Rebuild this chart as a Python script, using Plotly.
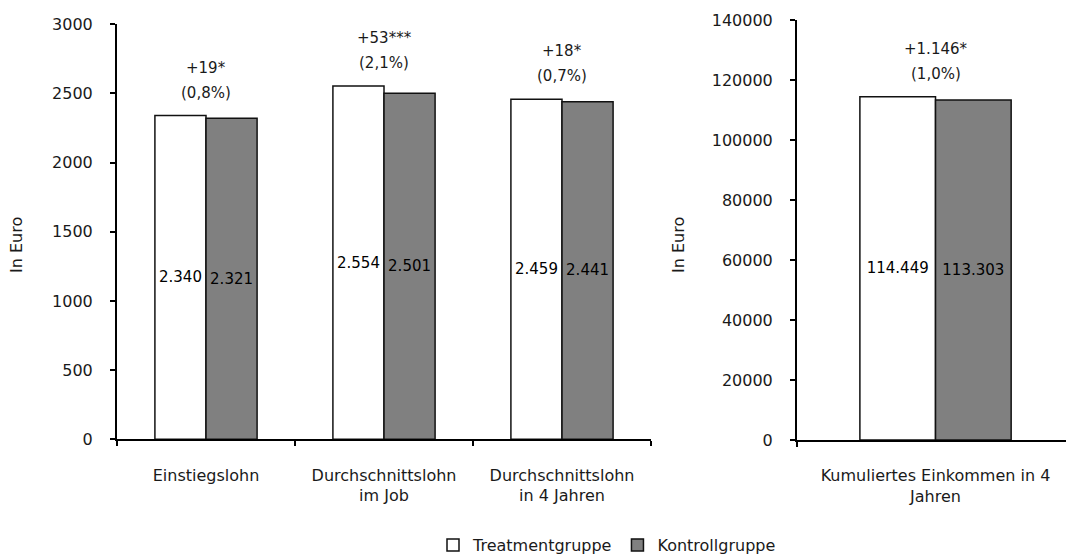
import plotly.graph_objects as go

categories_left = ["Einstiegslohn", "Durchschnittslohn<br>im Job", "Durchschnittslohn<br>in 4 Jahren"]
treatment_left = [2340, 2554, 2459]
control_left = [2321, 2501, 2441]
diff_left = ["+19*", "+53***", "+18*"]
pct_left = ["(0,8%)", "(2,1%)", "(0,7%)"]

categories_right = ["Kumuliertes Einkommen in 4<br>Jahren"]
treatment_right = [114449]
control_right = [113303]
diff_right = ["+1.146*"]
pct_right = ["(1,0%)"]

series_names = ["Treatmentgruppe", "Kontrollgruppe"]
y_title = "In Euro"

FONT = "DejaVu Sans"
TXT = "#1a1a1a"

# plot area: x 117..1066 px, y 20..440 px
ML, MR, MT, MB = 117, 0, 20, 114
W, H = 1066, 554
PW, PH = W - ML - MR, H - MT - MB


def px_x(px):
    return (px - ML) / PW


def px_y(py):
    return (H - MB - py) / PH


def fmt(v):
    return f"{v:,}".replace(",", ".")


fig = go.Figure()
line = dict(color="#111111", width=1.5)
wl = 0.287
wr = 0.273

def add_bars(cats, vals, name, color, off, w, xa, ya, show):
    fig.add_trace(go.Bar(
        x=cats, y=vals, name=name, marker=dict(color=color, line=line),
        text=[fmt(v) for v in vals], textposition="inside", insidetextanchor="middle",
        textangle=0, width=w, offset=off, xaxis=xa, yaxis=ya,
        legendgroup=name, showlegend=show))

add_bars(categories_left, treatment_left, series_names[0], "white", -wl, wl, "x", "y", True)
add_bars(categories_left, control_left, series_names[1], "#808080", 0, wl, "x", "y", True)
add_bars(categories_right, treatment_right, series_names[0], "white", -wr, wr, "x2", "y2", False)
add_bars(categories_right, control_right, series_names[1], "#808080", 0, wr, "x2", "y2", False)

fig.update_traces(textfont=dict(family=FONT, size=15, color="black"), cliponaxis=False)

annotations = []
for xr, yr, cats, ts, cs, ds, ps in [("x", "y", categories_left, treatment_left, control_left, diff_left, pct_left),
                                     ("x2", "y2", categories_right, treatment_right, control_right, diff_right, pct_right)]:
    for c, t, k, d, p in zip(cats, ts, cs, ds, ps):
        annotations.append(dict(x=c, y=max(t, k), xref=xr, yref=yr, text=d, showarrow=False,
                                yanchor="middle", yshift=48, font=dict(family=FONT, size=15, color=TXT)))
        annotations.append(dict(x=c, y=max(t, k), xref=xr, yref=yr, text=p, showarrow=False,
                                yanchor="middle", yshift=23, font=dict(family=FONT, size=15, color=TXT)))

for xp in (16, 678):
    annotations.append(dict(x=px_x(xp), y=px_y(245), xref="paper", yref="paper", text=y_title,
                            textangle=-90, showarrow=False, xanchor="center", yanchor="middle",
                            font=dict(family=FONT, size=16, color=TXT)))

axis_common = dict(showline=True, linecolor="black", linewidth=2, ticks="outside", ticklen=5,
                   tickcolor="black", tickwidth=1.5, showgrid=False, zeroline=False,
                   automargin=False, tickfont=dict(family=FONT, size=16, color=TXT))

fig.update_layout(
    width=W, height=H,
    margin=dict(l=ML, r=MR, t=MT, b=MB, autoexpand=False),
    plot_bgcolor="white", paper_bgcolor="white",
    barmode="overlay",
    font=dict(family=FONT, size=16, color=TXT),
    xaxis=dict(domain=[0, px_x(651)], range=[-0.5, 2.5], tickson="boundaries", ticklabelstandoff=20,
               anchor="y", **axis_common),
    yaxis=dict(domain=[px_y(439.3), px_y(24.3)], range=[0, 3000], dtick=500, tickformat="d",
               ticklabelstandoff=14, anchor="x", **axis_common),
    xaxis2=dict(domain=[px_x(797), 1], range=[-0.5, 0.471], tickson="boundaries",
                ticklabelstandoff=20, anchor="y2", **axis_common),
    yaxis2=dict(domain=[0, 1], range=[0, 140000], dtick=20000, tickformat="d",
                ticklabelstandoff=14, anchor="x2", **axis_common),
    legend=dict(orientation="h", x=px_x(607), xanchor="center", y=px_y(545), yanchor="middle",
                font=dict(family=FONT, size=16, color=TXT), itemwidth=30, tracegroupgap=0,
                bgcolor="rgba(0,0,0,0)"),
    annotations=annotations,
)

fig.write_html("out.html", config={"displayModeBar": False},
               post_script="document.body.style.margin='0';document.body.style.overflow='hidden';")
